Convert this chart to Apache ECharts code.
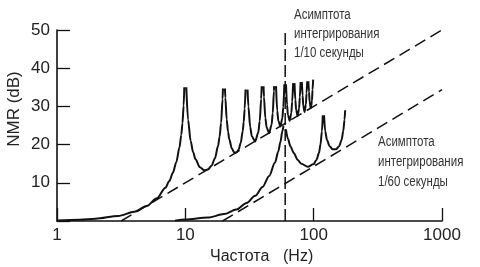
<!DOCTYPE html>
<html><head><meta charset="utf-8">
<script src="https://cdn.jsdelivr.net/npm/echarts/dist/echarts.min.js"></script>
<style>html,body{margin:0;padding:0;background:#fff}#c{width:480px;height:267px}</style>
</head><body><div id="c"></div>
<script>
// tick labels
const xTickLabels = ['1', '10', '100', '1000'];
const yTickLabels = ['10', '20', '30', '40', '50'];

// curve for 1/10 s integration (null = truncated peak)
const freq10 = [1,1.5,2,3,4,5,6,7,7.5,8,8.5,9,9.3,9.5,9.7,9.82,10,
  10.18,10.5,11,11.5,12,13,14,15,16,17,18,18.5,19,19.5,19.65,20,
  20.36,20.5,21,21.5,22,23,24,25,26,27,28,28.5,29,29.45,30,
  30.55,31,32,33,35,37,38,39,39.35,40,
  40.7,41,42,43,45,47,48,49,49.2,50,
  50.9,52,53,55,57,58,59.1,60,
  60.9,62,63,65,67,68,69.2,70,
  70.9,72,73,75,77,78,79.1,80,
  80.9,82,83,85,87,88,89.1,90,
  90.9,92,93,95,97,98,99.1];
const nmr10 = [0.14,0.32,0.58,1.33,2.42,3.92,5.94,8.69,10.45,12.62,15.39,19.23,22.54,25.61,30.21,35,null,
  35,26.48,20.97,18.02,16.15,14.06,13.31,13.46,14.47,16.39,19.67,22.15,25.72,31.85,34.7,null,
  34.7,32.29,26.59,23.45,21.41,19.02,17.99,17.9,18.68,20.41,23.51,25.9,29.39,34.4,null,
  34.4,29.97,24.67,22.15,20.82,23.15,26.16,31.96,35.3,null,
  35.3,32.4,27.03,24.45,23.01,25.22,28.19,33.95,35.3,null,
  35.3,28.88,26.27,24.75,26.9,29.83,35.8,null,
  35.8,30.41,27.77,26.2,28.3,31.21,36.1,null,
  36.1,31.71,29.05,27.44,29.51,32.4,36.4,null,
  36.4,32.84,30.16,28.53,30.57,33.45,36.6,null,
  36.6,33.84,31.15,29.5,31.52,34.39,37];

// curve for 1/60 s integration
const freq60 = [8.3,10,15,20,25,30,35,40,45,50,53,55,57,58.2,59.5,
  60.8,63,66,70,75,80,90,100,105,110,113,116,117.8,119,
  120.5,123,127,133,140,150,158,165,170,174,176];
const nmr60 = [0.1,0.4,0.9,1.8,3.0,4.7,6.6,8.9,11.8,15.3,18.2,20.6,23.5,25,null,
  24,21.5,19.5,17.8,16.0,15.0,14.2,14.9,16.0,17.8,20,23.5,27.7,null,
  27.7,23.5,21.2,19.6,18.8,18.8,19.6,21.2,23.5,26.5,29];

// asymptotes and 60 Hz marker
const asym10Freq = [3.16, 1000];
const asym10Nmr = [0, 50];
const asym60Freq = [19.5, 1000];
const asym60Nmr = [0, 34.4];
const markFreq = [60, 60];
const markNmr = [0, 49.6];

const annot10 = ['Асимптота', 'интегрирования', '1/10 секунды'];
const annot60 = ['Асимптота', 'интегрирования', '1/60 секунды'];

const zip = (a, b) => a.map((v, i) => [v, b[i]]);
const FONT = 'Liberation Sans, Arial, sans-serif';
const INK = '#111';

const chart = echarts.init(document.getElementById('c'), null, {renderer: 'canvas'});
chart.setOption({
  animation: false,
  backgroundColor: '#fff',
  grid: {left: 57, right: 38, top: 30, bottom: 46, containLabel: false},
  xAxis: {
    type: 'log', logBase: 10, min: 1, max: 1000,
    axisLine: {lineStyle: {color: INK, width: 1.6}},
    axisTick: {inside: true, length: 13, lineStyle: {color: INK, width: 1.3}},
    splitLine: {show: false},
    minorTick: {show: false},
    axisLabel: {
      margin: 6, fontSize: 17, fontFamily: FONT, color: '#222',
      formatter: v => xTickLabels[Math.round(Math.log10(v))] || ''
    }
  },
  yAxis: {
    type: 'value', min: 0, max: 50, interval: 10,
    axisLine: {show: true, lineStyle: {color: INK, width: 1.6}},
    axisTick: {show: true, inside: true, length: 13, lineStyle: {color: INK, width: 1.3}},
    splitLine: {show: false},
    axisLabel: {
      margin: 7, fontSize: 17, fontFamily: FONT, color: '#222',
      formatter: v => yTickLabels.includes(String(v)) ? String(v) : ''
    }
  },
  series: [
    {type: 'line', data: zip(asym10Freq, asym10Nmr), showSymbol: false, symbol: 'none',
      lineStyle: {color: INK, width: 1.5, type: [12, 6]}, z: 2},
    {type: 'line', data: zip(asym60Freq, asym60Nmr), showSymbol: false, symbol: 'none',
      lineStyle: {color: INK, width: 1.5, type: [12, 6]}, z: 2},
    {type: 'line', data: zip(markFreq, markNmr), showSymbol: false, symbol: 'none',
      lineStyle: {color: INK, width: 1.5, type: [12, 4]}, z: 2},
    {type: 'line', data: zip(freq10, nmr10), showSymbol: false, symbol: 'none',
      connectNulls: false, smooth: 0.3, smoothMonotone: 'x',
      lineStyle: {color: INK, width: 2}, z: 3},
    {type: 'line', data: zip(freq60, nmr60), showSymbol: false, symbol: 'none',
      connectNulls: false, smooth: 0.3, smoothMonotone: 'x',
      lineStyle: {color: INK, width: 2}, z: 3}
  ],
  graphic: [
    {type: 'text', x: 14, y: 109, rotation: Math.PI / 2,
      style: {text: 'NMR (dB)', font: '17px ' + FONT, fill: '#222', align: 'center', verticalAlign: 'middle'}},
    {type: 'text', x: 210, y: 257,
      style: {text: 'Частота', font: '16px ' + FONT, fill: '#222', align: 'left', verticalAlign: 'middle'}},
    {type: 'text', x: 283, y: 257,
      style: {text: '(Hz)', font: '16px ' + FONT, fill: '#222', align: 'left', verticalAlign: 'middle'}},
    {type: 'text', x: 294, y: 5.5, scaleX: 0.82,
      style: {text: annot10.join('\n'), font: '14px ' + FONT, lineHeight: 19.2, fill: '#333', align: 'left', verticalAlign: 'top'}},
    {type: 'text', x: 378, y: 131.7, scaleX: 0.82,
      style: {text: annot60.join('\n'), font: '14px ' + FONT, lineHeight: 20, fill: '#333', align: 'left', verticalAlign: 'top'}}
  ]
});
</script>
</body></html>
